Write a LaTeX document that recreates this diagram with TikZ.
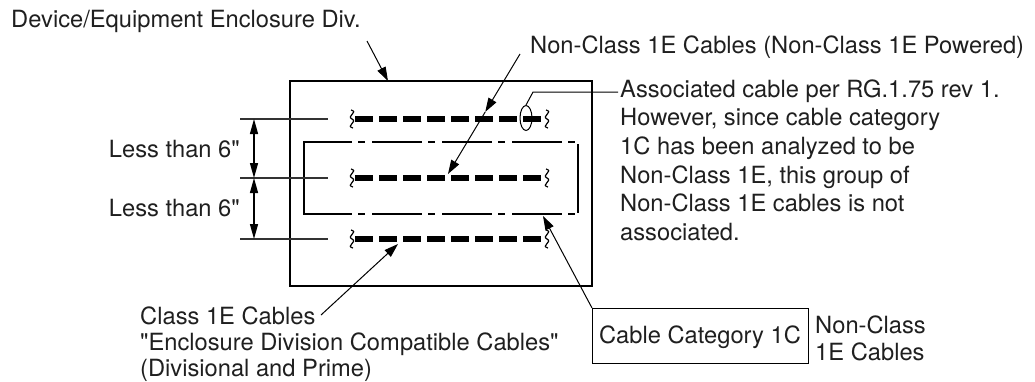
\documentclass[tikz,border=0pt]{standalone}
\usepackage{fontspec}
\setmainfont{TeX Gyre Heros}[Ligatures=TeXOff]
\usetikzlibrary{arrows.meta,shapes.geometric,calc}
\newcommand\labfont{\fontsize{23.7}{28}\selectfont}
\begin{document}
\begin{tikzpicture}[x=1pt,y=-1pt,
  txt/.style={inner sep=0pt,font=\labfont,text=black!88},
  lead/.style={line width=1pt,-{Triangle[length=14pt,width=9pt]}},
  cable/.style={line width=6pt,dash pattern=on 17.5pt off 6.5pt},
  ddash/.style={line width=2.2pt,dash pattern=on 50pt off 6pt on 7pt off 7pt,dash phase=2pt},
  dimline/.style={line width=1.3pt,black!80},
  dimarrow/.style={line width=1.4pt,{Triangle[length=15pt,width=8pt]}-{Triangle[length=15pt,width=8pt]}},
  squig/.pic={\draw[line width=1.2pt] (-1,-9) .. controls (7,-7) and (-6,-3) .. (0,0) .. controls (6,3) and (-7,7) .. (1,9);}
]
\useasboundingbox (0,0) rectangle (1035,381);

% enclosure box
\draw[line width=2.5pt] (290,81) rectangle (592,286);

% dash-dot group (cable category 1C)
\draw[ddash] (304,142) -- (578,142);
\draw[ddash] (304,214) -- (578,214);
\draw[line width=2.2pt,line cap=rect] (304,142) -- (304,214);
\draw[line width=2.2pt] (578,144) -- (578,213);

% cables
\foreach \y in {119,178,239}{
  \draw[cable] (355,\y) -- (541,\y);
  \pic at (352,\y) {squig};
  \pic at (547,\y) {squig};
  \draw[dimline] (240,\y) -- (328,\y);
}

% ellipse marker
\node[draw,ellipse,line width=1pt,minimum width=12pt,minimum height=25pt,inner sep=0pt] (ell) at (526,118) {};

% dimension arrows
\coordinate (d1) at (254,119);
\coordinate (d2) at (254,178);
\coordinate (d3) at (254,239);
\draw[dimarrow] (d1) -- (d2);
\draw[dimarrow] (d2) -- (d3);

% texts
\node[txt,anchor=base west] (dev) at (11,27) {Device/Equipment Enclosure Div.};
\node[txt,anchor=base west] (nc) at (530,53.5) {Non-Class 1E Cables (Non-Class 1E Powered)};
\node[txt,anchor=base west] (as1) at (620,97) {Associated cable per RG.1.75 rev 1.};
\node[txt,anchor=base west] (as2) at (620,125.7) {However, since cable category};
\node[txt,anchor=base west] (as3) at (620,154.4) {1C has been analyzed to be};
\node[txt,anchor=base west] (as4) at (620,183) {Non-Class 1E, this group of};
\node[txt,anchor=base west] (as5) at (620,211.8) {Non-Class 1E cables is not};
\node[txt,anchor=base west] (as6) at (620,240.5) {associated.};
\node[txt,anchor=base east] (l1) at (240,157.5) {Less than 6"};
\node[txt,anchor=base east] (l2) at (240,216.5) {Less than 6"};
\node[txt,anchor=base west] (c1) at (140,324) {Class 1E Cables};
\node[txt,anchor=base west] (c2) at (140,350.5) {"Enclosure Division Compatible Cables"};
\node[txt,anchor=base west] (c3) at (140,376.5) {(Divisional and Prime)};
\node[draw,line width=1pt,minimum width=216pt,minimum height=55pt,inner sep=0pt,anchor=north west] (cat) at (592,308) {};
\node[txt,anchor=base] (catt) at (700,343) {Cable Category 1C};
\node[txt,anchor=base west] (n1) at (815,333) {Non-Class};
\node[txt,anchor=base west] (n2) at (815,360) {1E Cables};

% connectors
\coordinate (devs) at (367,41);
\coordinate (devt) at (388,81);
\draw[lead] (devs) -- (devt);

\coordinate (ncs) at (520,54);
\coordinate (nct) at (448,174);
\coordinate (ncm) at ($(ncs)!0.483!(nct)$);
\draw[lead] (ncs) -- (ncm);
\draw[lead] (ncm) -- (nct);

\coordinate (c1s) at (321,315);
\coordinate (c1t) at (398,244);
\draw[lead] (c1s) -- (c1t);

\coordinate (catt2) at (543,216);
\draw[lead] (cat.north west) -- (catt2);

\coordinate (ellk) at (533,92);
\coordinate (ellt) at (618,92);
\draw[line width=1pt] (ell.north) -- (ellk) -- (ellt);
\end{tikzpicture}
\end{document}
